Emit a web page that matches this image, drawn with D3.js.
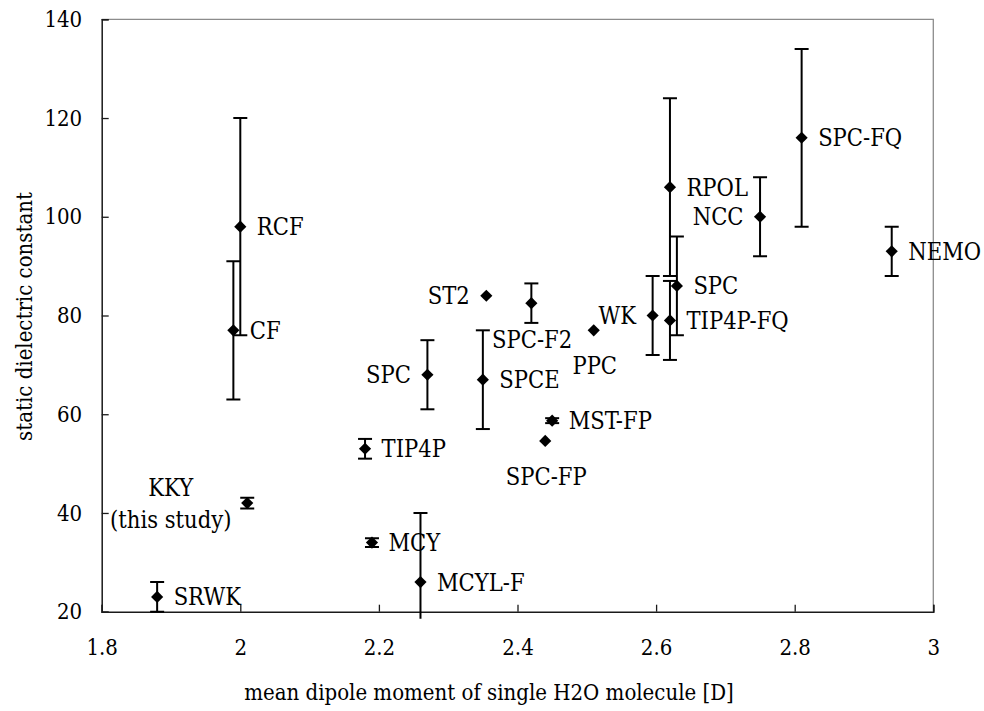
<!DOCTYPE html>
<html>
<head>
<meta charset="utf-8">
<script src="https://cdn.jsdelivr.net/npm/d3@7"></script>
<style>
  html, body { margin: 0; padding: 0; background: #fff; }
  svg { display: block; }
  svg text { font-stretch: condensed; }
</style>
</head>
<body>
<svg id="chart" width="984" height="711"></svg>
<script>
// ---- data ----
const models = ["SRWK", "KKY\n(this study)", "CF", "RCF", "MCY", "TIP4P", "MCYL-F", "SPC", "ST2", "SPCE",
                "SPC-F2", "SPC-FP", "MST-FP", "PPC", "WK", "RPOL", "TIP4P-FQ", "SPC", "NCC", "SPC-FQ", "NEMO"];
const dipole = [1.88, 2.01, 1.99, 2.00, 2.19, 2.18, 2.26, 2.27, 2.355, 2.35,
                2.42, 2.44, 2.45, 2.51, 2.595, 2.62, 2.62, 2.63, 2.75, 2.81, 2.94];
const dielectric = [23, 42, 77, 98, 34, 53, 26, 68, 84, 67,
                    82.5, 54.6, 58.7, 77, 80, 106, 79, 86, 100, 116, 93];
const errorBar = [3, 1.1, 14, 22, 0.9, 2, 14, 7, 0, 10,
                  4, 0, 0.5, 0, 8, 18, 8, 10, 8, 18, 5];
const labelSide = ["right", "farLeft", "right", "right", "right", "right", "right", "left", "left", "right",
                   "belowLeft", "below", "right", "below", "left", "right", "right", "right", "left", "right", "right"];
const xTicks = [1.8, 2, 2.2, 2.4, 2.6, 2.8, 3];
const yTicks = [20, 40, 60, 80, 100, 120, 140];
const xTitle = "mean dipole moment of single H2O molecule [D]";
const yTitle = "static dielectric constant";

// ---- layout ----
const plot = { left: 101.7, right: 933.3, top: 19.3, bottom: 611.7 };
const labelFont = 23.5, tickFont = 22, titleFont = 22;
const FONT = '"DejaVu Serif Condensed", "DejaVu Serif", serif';

const svg = d3.select("#chart").attr("font-family", FONT);
const x = d3.scaleLinear().domain([1.8, 3]).range([plot.left, plot.right]);
const y = d3.scaleLinear().domain([20, 140]).range([plot.bottom, plot.top]);

// frame (top & right gray)
svg.append("path")
  .attr("d", `M${plot.left},${plot.top}H${plot.right}V${plot.bottom}`)
  .attr("fill", "none").attr("stroke", "#8c8c8c").attr("stroke-width", 1.3);

// axes
const yAxis = d3.axisLeft(y).tickValues(yTicks).tickSize(-7).tickPadding(19.5).tickFormat(d3.format("d"));
const gy = svg.append("g").attr("transform", `translate(${plot.left},0)`).call(yAxis);
const xAxis = d3.axisBottom(x).tickValues(xTicks).tickSize(-7).tickPadding(28).tickFormat(d => String(d));
const gx = svg.append("g").attr("transform", `translate(0,${plot.bottom})`).call(xAxis);
[gx, gy].forEach(g => {
  g.attr("font-family", FONT).attr("font-size", tickFont);
  g.select(".domain").attr("stroke", "#1a1a1a").attr("stroke-width", 1.5);
  g.selectAll(".tick line").attr("stroke", "#1a1a1a").attr("stroke-width", 1.3);
  g.selectAll(".tick text").attr("fill", "#000");
});

// titles
svg.append("text").attr("x", 489).attr("y", 700).attr("text-anchor", "middle")
  .attr("font-size", titleFont).text(xTitle);
svg.append("text").attr("transform", `translate(32,${(plot.top + plot.bottom) / 2 + 1}) rotate(-90)`)
  .attr("text-anchor", "middle").attr("font-size", titleFont).text(yTitle);

// clip for error bars (chart area extends slightly below the axis)
svg.append("clipPath").attr("id", "clip").append("rect")
  .attr("x", plot.left - 20).attr("y", plot.top - 10)
  .attr("width", plot.right - plot.left + 40).attr("height", plot.bottom - plot.top + 17);

const data = models.map((m, i) => ({ name: m, x: dipole[i], y: dielectric[i], e: errorBar[i], side: labelSide[i] }));

// error bars
const capHalf = 7;
const eb = svg.append("g").attr("clip-path", "url(#clip)")
  .attr("stroke", "#000").attr("stroke-width", 2).attr("fill", "none");
data.filter(d => d.e > 0).forEach(d => {
  const cx = x(d.x), yt = y(d.y + d.e), yb = y(d.y - d.e);
  eb.append("line").attr("x1", cx).attr("x2", cx).attr("y1", yt).attr("y2", yb);
  eb.append("line").attr("x1", cx - capHalf).attr("x2", cx + capHalf).attr("y1", yt).attr("y2", yt);
  eb.append("line").attr("x1", cx - capHalf).attr("x2", cx + capHalf).attr("y1", yb).attr("y2", yb);
});

// markers (diamonds)
const sym = d3.symbol().type(d3.symbolSquare).size(74);
svg.append("g").selectAll("path").data(data).join("path")
  .attr("d", sym)
  .attr("transform", d => `translate(${x(d.x)},${y(d.y)}) rotate(45)`)
  .attr("fill", "#000");

// labels
const capMid = 8.5; // baseline offset to vertically centre capitals
const lbl = svg.append("g").attr("font-size", labelFont);
data.forEach(d => {
  const cx = x(d.x), cy = y(d.y);
  const lines = d.name.split("\n");
  let anchor = "start", dx = 16.5, dy = 0;
  if (d.side === "left") { anchor = "end"; dx = -16.5; }
  else if (d.side === "below") { anchor = "middle"; dx = 1; dy = 35.5; }
  else if (d.side === "belowLeft") { anchor = "start"; dx = -39.3; dy = 36.7; }
  else if (d.side === "farLeft") { anchor = "middle"; dx = -76.5; dy = -15.8; }
  const t = lbl.append("text").attr("text-anchor", anchor);
  lines.forEach((ln, k) => {
    t.append("tspan").attr("x", cx + dx).attr("y", cy + dy + capMid + k * 32.3).text(ln);
  });
});
</script>
</body>
</html>
